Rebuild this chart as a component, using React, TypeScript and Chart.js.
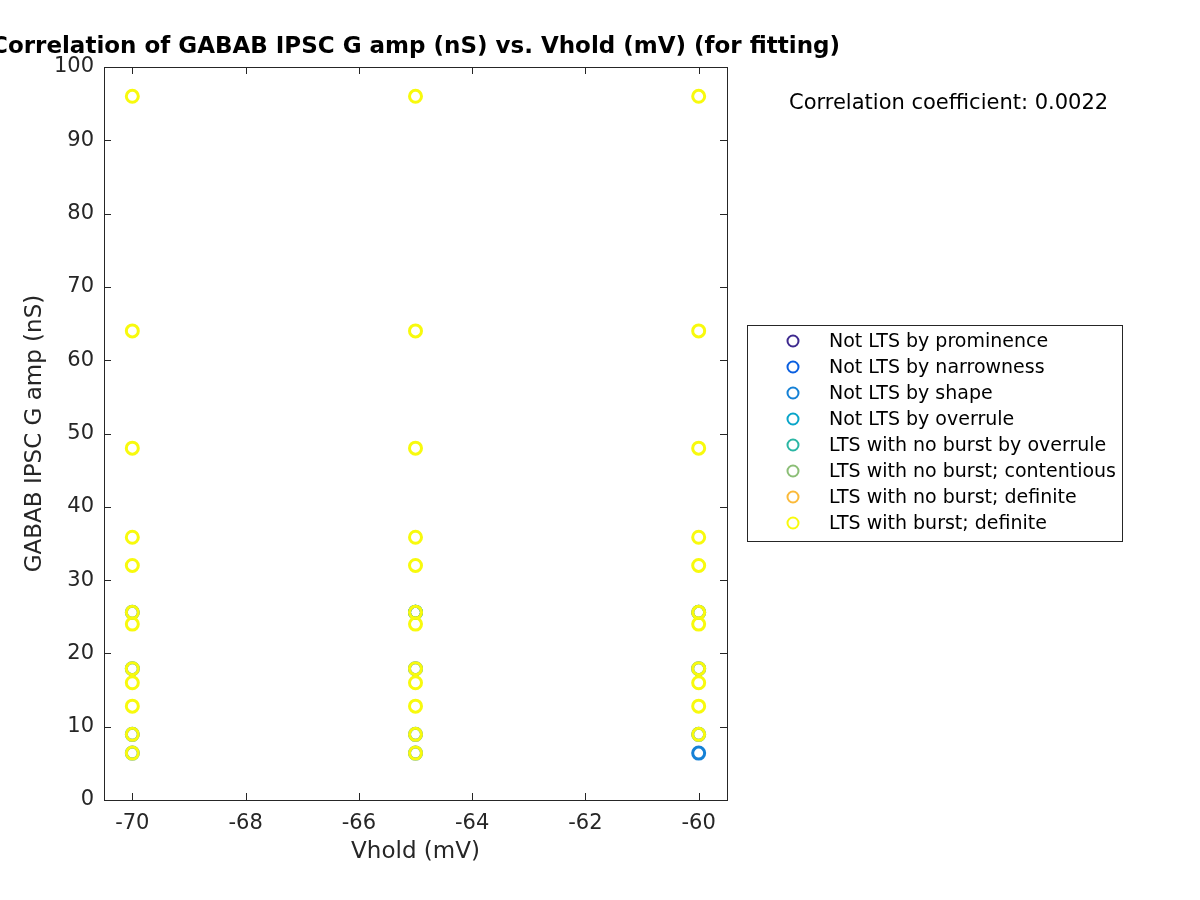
import React, { useEffect, useRef } from "react";
import { Chart, registerables } from "chart.js";

Chart.register(...registerables);

const TITLE = "Correlation of GABAB IPSC G amp (nS) vs. Vhold (mV) (for fitting)";
const X_LABEL = "Vhold (mV)";
const Y_LABEL = "GABAB IPSC G amp (nS)";
const CORR_TEXT = "Correlation coefficient: 0.0022";

const xTicks = [-70, -68, -66, -64, -62, -60];
const yTicks = [0, 10, 20, 30, 40, 50, 60, 70, 80, 90, 100];

const seriesLabels = [
  "Not LTS by prominence",
  "Not LTS by narrowness",
  "Not LTS by shape",
  "Not LTS by overrule",
  "LTS with no burst by overrule",
  "LTS with no burst; contentious",
  "LTS with no burst; definite",
  "LTS with burst; definite",
];
const seriesColors = [
  "#3E2A8F",
  "#0A5FE0",
  "#1581D6",
  "#09A5C9",
  "#2BB6A4",
  "#8BBE76",
  "#FBBA3A",
  "#F8FA0D",
];

// Points per series: [Vhold, amplitude]
const notLtsProminence: [number, number][] = [];
const notLtsNarrowness: [number, number][] = [];
const notLtsShape: [number, number][] = [
  [-70, 6.4], [-70, 8.96], [-70, 25.6], [-70, 17.92],
  [-65, 6.4], [-65, 8.96], [-65, 25.6], [-65, 17.92],
  [-60, 8.96], [-60, 25.6], [-60, 17.92], [-60, 6.4],
];
const notLtsOverrule: [number, number][] = [[-65, 25.6]];
const ltsNoBurstOverrule: [number, number][] = [[-65, 25.6]];
const ltsNoBurstContentious: [number, number][] = [[-65, 25.6], [-60, 25.6]];
const ltsNoBurstDefinite: [number, number][] = [];
const ltsBurstDefinite: [number, number][] = [
  [-70, 6.4], [-70, 8.96], [-70, 12.8], [-70, 16], [-70, 17.92], [-70, 24],
  [-70, 25.6], [-70, 32], [-70, 35.84], [-70, 48], [-70, 64], [-70, 96],
  [-65, 6.4], [-65, 8.96], [-65, 12.8], [-65, 16], [-65, 17.92], [-65, 24],
  [-65, 25.6], [-65, 32], [-65, 35.84], [-65, 48], [-65, 64], [-65, 96],
  [-60, 8.96], [-60, 12.8], [-60, 16], [-60, 17.92], [-60, 24],
  [-60, 25.6], [-60, 32], [-60, 35.84], [-60, 48], [-60, 64], [-60, 96],
];

const allSeries = [
  notLtsProminence,
  notLtsNarrowness,
  notLtsShape,
  notLtsOverrule,
  ltsNoBurstOverrule,
  ltsNoBurstContentious,
  ltsNoBurstDefinite,
  ltsBurstDefinite,
];

const FONT = "'DejaVu Sans', sans-serif";
const AXIS_COLOR = "#262626";

const decorPlugin = {
  id: "matlabDecor",
  afterDatasetsDraw(chart: any) {
    const { ctx, chartArea } = chart;
    const { left, right, top, bottom } = chartArea;
    const xs = chart.scales.x;
    const ys = chart.scales.y;
    ctx.save();
    // box
    ctx.strokeStyle = AXIS_COLOR;
    ctx.lineWidth = 1;
    ctx.strokeRect(Math.round(left) + 0.5, Math.round(top) + 0.5, Math.round(right - left), Math.round(bottom - top));
    // inward ticks
    const tl = 7;
    ctx.beginPath();
    xTicks.forEach((v) => {
      const px = Math.round(xs.getPixelForValue(v)) + 0.5;
      ctx.moveTo(px, bottom);
      ctx.lineTo(px, bottom - tl);
      ctx.moveTo(px, top);
      ctx.lineTo(px, top + tl);
    });
    yTicks.forEach((v) => {
      const py = Math.round(ys.getPixelForValue(v)) + 0.5;
      ctx.moveTo(left, py);
      ctx.lineTo(left + tl, py);
      ctx.moveTo(right, py);
      ctx.lineTo(right - tl, py);
    });
    ctx.stroke();

    // title
    ctx.fillStyle = "#000";
    ctx.font = `bold 23px ${FONT}`;
    ctx.textAlign = "center";
    ctx.textBaseline = "middle";
    ctx.fillText(TITLE, (left + right) / 2, 47);

    // axis labels
    ctx.fillStyle = AXIS_COLOR;
    ctx.font = `23px ${FONT}`;
    ctx.fillText(X_LABEL, (left + right) / 2, 852);
    ctx.save();
    ctx.translate(35, (top + bottom) / 2);
    ctx.rotate(-Math.PI / 2);
    ctx.fillText(Y_LABEL, 0, 0);
    ctx.restore();

    // correlation text
    ctx.fillStyle = "#000";
    ctx.font = `21px ${FONT}`;
    ctx.textAlign = "left";
    ctx.fillText(CORR_TEXT, 789, 104);

    // legend
    const lx = 747, ly = 325, lw = 375, lh = 216;
    ctx.fillStyle = "#fff";
    ctx.fillRect(lx, ly, lw, lh);
    ctx.strokeStyle = AXIS_COLOR;
    ctx.lineWidth = 1;
    ctx.strokeRect(lx + 0.5, ly + 0.5, lw, lh);
    ctx.font = `19px ${FONT}`;
    seriesLabels.forEach((lab, i) => {
      const cy = 341 + i * 26;
      ctx.beginPath();
      ctx.strokeStyle = seriesColors[i];
      ctx.lineWidth = 2;
      ctx.arc(793, cy, 5.5, 0, Math.PI * 2);
      ctx.stroke();
      ctx.fillStyle = "#000";
      ctx.fillText(lab, 829, cy + 1);
    });
    ctx.restore();
  },
};

export default function App() {
  const ref = useRef<HTMLCanvasElement | null>(null);
  useEffect(() => {
    document.body.style.margin = "0";
    if (!ref.current) return;
    const chart = new Chart(ref.current, {
      type: "scatter",
      data: {
        datasets: allSeries.map((pts, i) => ({
          label: seriesLabels[i],
          data: pts.map(([x, y]) => ({ x, y })),
          order: allSeries.length - i,
          borderColor: seriesColors[i],
          backgroundColor: "rgba(0,0,0,0)",
          pointRadius: 6,
          pointHoverRadius: 6,
          borderWidth: 3,
          pointBorderWidth: 3,
          pointStyle: "circle",
        })),
      },
      options: {
        responsive: false,
        animation: false,
        devicePixelRatio: 1,
        layout: { padding: { top: 67, right: 473, left: 0, bottom: 0 } },
        plugins: {
          legend: { display: false },
          title: { display: false },
          tooltip: { enabled: false },
        },
        scales: {
          x: {
            type: "linear",
            min: -70.5,
            max: -59.5,
            afterBuildTicks: (s: any) => {
              s.ticks = xTicks.map((v) => ({ value: v }));
            },
            afterFit: (s: any) => {
              s.height = 100;
            },
            grid: { display: false, drawTicks: false },
            border: { display: false },
            ticks: {
              padding: 11,
              color: AXIS_COLOR,
              font: { family: FONT, size: 21 },
              maxRotation: 0,
              autoSkip: false,
              callback: (v: any) => String(v),
            },
          },
          y: {
            type: "linear",
            min: 0,
            max: 100,
            afterBuildTicks: (s: any) => {
              s.ticks = yTicks.map((v) => ({ value: v }));
            },
            afterFit: (s: any) => {
              s.width = 104;
            },
            grid: { display: false, drawTicks: false },
            border: { display: false },
            ticks: {
              padding: 10,
              color: AXIS_COLOR,
              font: { family: FONT, size: 21 },
              autoSkip: false,
              callback: (v: any) => String(v),
            },
          },
        },
      },
      plugins: [decorPlugin],
    });
    return () => chart.destroy();
  }, []);
  return (
    <div style={{ position: "absolute", left: 0, top: 0, width: 1200, height: 900, background: "#fff" }}>
      <canvas ref={ref} width={1200} height={900} style={{ width: 1200, height: 900 }} />
    </div>
  );
}
